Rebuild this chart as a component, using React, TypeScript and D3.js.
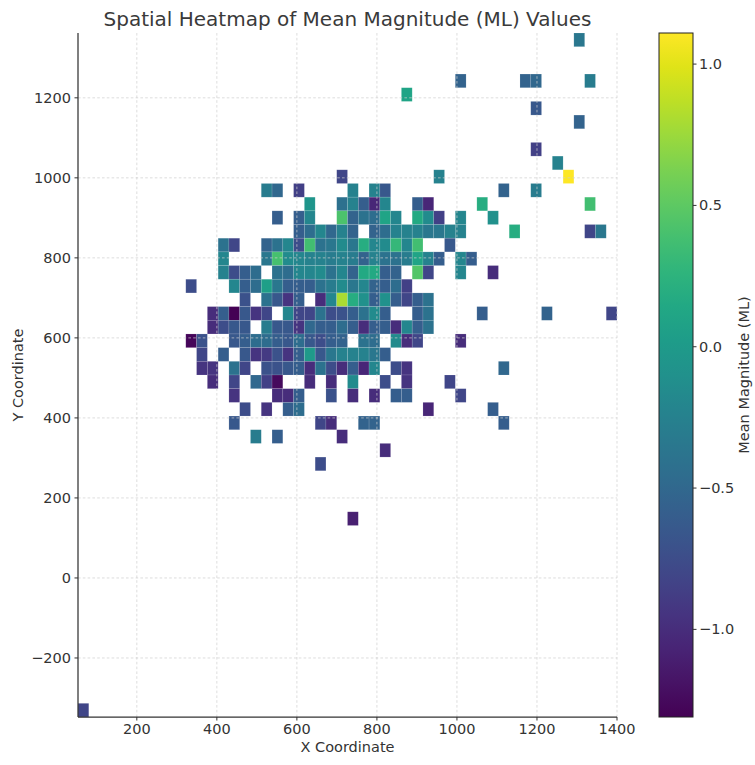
import React from "react";
import * as d3 from "d3";

const TITLE = "Spatial Heatmap of Mean Magnitude (ML) Values";
const X_LABEL = "X Coordinate";
const Y_LABEL = "Y Coordinate";
const COLORBAR_LABEL = "Mean Magnitude (ML)";

// Extent of the binned coordinates and number of bins per axis
const X_RANGE: [number, number] = [53, 1400];
const Y_RANGE: [number, number] = [-347.5, 1362];
const BIN_COUNT = 50;

const X_TICKS = [200, 400, 600, 800, 1000, 1200, 1400];
const Y_TICKS = [-200, 0, 200, 400, 600, 800, 1000, 1200];
const COLOR_TICKS = [-1.0, -0.5, 0.0, 0.5, 1.0];

// Mean ML of each occupied bin, grouped by bin row: [row, [[column, mean], ...]]
const MEAN_BY_ROW: [number, [number, number][]][] = [
  [49, [[46, -0.35]]],
  [46, [[35, -0.55], [41, -0.55], [42, -0.5], [47, -0.3]]],
  [45, [[30, 0.1]]],
  [44, [[42, -0.65]]],
  [43, [[46, -0.55]]],
  [41, [[42, -0.85]]],
  [40, [[44, -0.25]]],
  [39, [[24, -0.8], [33, -0.25], [45, 1.11]]],
  [38, [[17, -0.3], [18, -0.5], [20, -0.85], [25, -0.25], [27, -0.25], [28, -0.65], [39, -0.55], [42, -0.3]]],
  [37, [[21, -0.05], [24, -0.42], [25, -0.25], [26, -0.6], [27, -1.05], [28, -0.2], [31, -0.6], [32, -1.05], [37, 0.2], [47, 0.38]]],
  [36, [[18, -0.6], [20, -0.6], [21, -0.2], [24, 0.42], [25, -0.55], [26, -0.4], [27, -0.45], [28, 0.1], [29, -0.2], [31, 0.15], [32, -0.15], [33, -0.85], [35, -0.2], [38, -0.1]]],
  [35, [[20, -0.6], [21, -0.45], [22, -0.2], [23, -0.5], [24, -0.25], [25, -0.55], [27, -0.55], [28, -0.45], [29, -0.25], [30, -0.25], [31, -0.25], [32, -0.35], [33, -0.35], [34, -0.25], [35, -0.25], [40, 0.2], [47, -0.8], [48, -0.35]]],
  [34, [[13, -0.4], [14, -0.8], [17, -0.55], [18, -0.4], [19, -0.2], [20, -0.75], [21, 0.38], [22, -0.4], [23, -0.35], [24, -0.15], [25, -0.35], [26, 0.2], [27, -0.2], [28, -0.15], [29, 0.3], [30, -0.2], [31, 0.38], [34, -0.65]]],
  [33, [[13, -0.2], [17, -0.35], [18, 0.4], [19, -0.15], [20, -0.2], [21, -0.25], [22, -0.25], [23, -0.3], [24, -0.25], [25, -0.3], [26, -0.55], [27, -0.25], [28, -0.4], [29, -0.4], [30, -0.3], [31, 0.1], [32, -0.25], [33, -0.6], [35, -0.2], [36, -0.6]]],
  [32, [[13, -0.25], [14, -0.75], [15, -0.6], [16, -0.45], [18, -0.4], [19, -0.45], [20, -0.2], [21, -0.2], [22, -0.15], [23, -0.4], [24, -0.2], [25, -0.55], [26, 0.15], [27, 0.15], [28, -0.6], [29, -0.55], [31, 0.45], [32, -0.8], [35, -0.2], [38, -1.0]]],
  [31, [[10, -0.75], [14, -0.2], [15, -0.6], [16, -0.45], [17, 0.05], [18, -0.35], [19, -0.6], [20, -0.6], [21, -0.6], [22, -0.4], [23, -0.3], [24, -0.15], [25, -0.35], [26, -0.2], [27, -0.55], [28, -0.6], [29, -0.45], [30, -0.85]]],
  [30, [[15, -0.7], [17, -0.4], [18, -0.65], [19, -0.95], [20, -0.6], [22, -1.0], [23, -0.2], [24, 0.8], [25, 0.2], [26, -0.1], [27, -0.6], [28, -0.1], [29, -0.6], [30, -0.8], [31, -0.6], [32, -0.4]]],
  [29, [[12, -1.0], [13, -0.6], [14, -1.31], [15, -0.65], [16, -0.95], [17, -0.8], [19, -0.2], [20, -0.8], [21, -0.8], [22, -0.4], [23, -0.75], [24, -0.7], [25, -0.6], [26, -0.4], [27, -0.15], [28, -0.6], [31, -0.6], [32, -0.4], [37, -0.6], [43, -0.55], [49, -0.8]]],
  [28, [[12, -1.0], [13, -0.75], [14, -0.65], [15, -0.65], [17, -0.3], [18, -0.65], [19, -0.65], [20, -0.95], [21, -0.5], [22, -0.6], [23, -0.6], [24, -0.45], [25, -0.6], [26, -1.0], [27, -0.6], [28, -0.6], [29, -1.0], [30, -0.2], [31, -0.6], [32, -0.4]]],
  [27, [[10, -1.28], [11, -0.7], [14, -0.65], [15, -0.6], [16, -0.45], [17, -0.45], [18, -0.6], [19, -0.65], [20, -0.45], [21, -0.65], [22, -0.75], [23, -0.6], [24, -0.55], [26, -0.4], [27, -0.45], [29, -0.15], [30, -1.0], [31, -0.8], [35, -1.0]]],
  [26, [[11, -0.8], [13, -0.6], [15, -0.65], [16, -0.95], [17, -0.9], [18, -0.7], [19, -0.95], [20, -0.6], [21, 0.0], [22, -0.65], [23, -0.35], [24, -0.25], [25, -0.25], [26, -0.25], [27, -0.35], [28, -0.6]]],
  [25, [[11, -0.95], [12, -0.95], [14, -0.4], [15, -0.8], [17, -0.7], [18, -0.7], [19, -0.65], [20, -0.6], [21, -1.0], [22, -0.4], [23, -0.75], [24, -1.0], [25, -0.6], [26, -1.05], [27, -0.2], [29, -0.75], [30, -0.95], [39, -0.5]]],
  [24, [[12, -1.0], [14, -0.8], [16, -0.5], [17, -0.85], [18, -1.25], [21, -1.0], [23, -1.0], [25, -0.15], [28, -0.75], [30, -0.95], [34, -0.8]]],
  [23, [[14, -0.95], [18, -1.0], [19, -1.0], [20, -0.6], [23, -0.7], [25, -1.0], [27, -1.0], [29, -0.6], [30, -0.6], [35, -0.8]]],
  [22, [[15, -0.75], [17, -0.95], [19, -0.6], [20, -0.45], [32, -1.05], [38, -0.6]]],
  [21, [[14, -0.65], [22, -0.8], [23, -1.0], [26, -0.55], [27, -0.55], [39, -0.6]]],
  [20, [[16, -0.3], [18, -0.6], [24, -1.0]]],
  [19, [[28, -1.0]]],
  [18, [[22, -0.75]]],
  [14, [[25, -1.1]]],
  [0, [[0, -0.8]]],
];

const WIDTH = 755;
const HEIGHT = 765;
const PLOT = { left: 78, right: 617, top: 33, bottom: 717 };
const BAR = { left: 659, right: 693 };
const FONT = "'DejaVu Sans', sans-serif";
const TEXT = "#333";
const TICK_SIZE = 14.5;
const LABEL_SIZE = 14.5;

export default function App() {
  const x = d3.scaleLinear().domain(X_RANGE).range([PLOT.left, PLOT.right]);
  const y = d3.scaleLinear().domain(Y_RANGE).range([PLOT.bottom, PLOT.top]);

  const binW = (X_RANGE[1] - X_RANGE[0]) / BIN_COUNT;
  const binH = (Y_RANGE[1] - Y_RANGE[0]) / BIN_COUNT;

  const cells = MEAN_BY_ROW.flatMap(([row, entries]) =>
    entries.map(([col, mean]) => ({
      x0: X_RANGE[0] + col * binW,
      x1: X_RANGE[0] + (col + 1) * binW,
      y0: Y_RANGE[0] + row * binH,
      y1: Y_RANGE[0] + (row + 1) * binH,
      mean,
    }))
  );

  const extent = d3.extent(cells, (c) => c.mean) as [number, number];
  const color = d3.scaleSequential(d3.interpolateViridis).domain(extent);
  const cbar = d3.scaleLinear().domain(extent).range([PLOT.bottom, PLOT.top]);

  const fmtAxis = d3.format("d");
  const fmtBar = d3.format(".1f");

  const stops = d3.range(0, 1.0001, 0.05);

  return (
    <svg
      width={WIDTH}
      height={HEIGHT}
      style={{ position: "absolute", left: 0, top: 0, background: "#fff" }}
      fontFamily={FONT}
    >
      <defs>
        <linearGradient id="viridis-bar" x1="0" y1="1" x2="0" y2="0">
          {stops.map((t) => (
            <stop key={t} offset={t} stopColor={d3.interpolateViridis(t)} />
          ))}
        </linearGradient>
        <clipPath id="plot-clip">
          <rect x={PLOT.left} y={PLOT.top} width={PLOT.right - PLOT.left} height={PLOT.bottom - PLOT.top} />
        </clipPath>
      </defs>

      <rect x={0} y={0} width={WIDTH} height={HEIGHT} fill="#fff" />

      {/* binned cells */}
      <g clipPath="url(#plot-clip)">
        {cells.map((c, i) => (
          <rect
            key={i}
            x={x(c.x0)}
            y={y(c.y1)}
            width={x(c.x1) - x(c.x0)}
            height={y(c.y0) - y(c.y1)}
            fill={color(c.mean)}
            stroke="#fff"
            strokeOpacity={0.2}
            strokeWidth={0.6}
          />
        ))}
      </g>

      {/* dashed grid above the cells */}
      <g stroke="#cfcfcf" strokeWidth={0.7} strokeDasharray="2.6,2.2">
        {X_TICKS.map((t) => (
          <line key={"gx" + t} x1={x(t)} x2={x(t)} y1={PLOT.top} y2={PLOT.bottom} />
        ))}
        {Y_TICKS.map((t) => (
          <line key={"gy" + t} x1={PLOT.left} x2={PLOT.right} y1={y(t)} y2={y(t)} />
        ))}
      </g>

      {/* spines */}
      <line x1={PLOT.left} x2={PLOT.left} y1={PLOT.top} y2={PLOT.bottom} stroke={TEXT} strokeWidth={1.25} />
      <line x1={PLOT.left} x2={PLOT.right} y1={PLOT.bottom} y2={PLOT.bottom} stroke={TEXT} strokeWidth={1.25} />

      {/* x axis */}
      {X_TICKS.map((t) => (
        <g key={"xt" + t}>
          <line x1={x(t)} x2={x(t)} y1={PLOT.bottom} y2={PLOT.bottom + 3.5} stroke={TEXT} strokeWidth={1} />
          <text x={x(t)} y={PLOT.bottom + 12} textAnchor="middle" dominantBaseline="central" fontSize={TICK_SIZE} fill={TEXT}>
            {fmtAxis(t)}
          </text>
        </g>
      ))}
      <text x={(PLOT.left + PLOT.right) / 2} y={747} textAnchor="middle" dominantBaseline="central" fontSize={LABEL_SIZE} fill={TEXT}>
        {X_LABEL}
      </text>

      {/* y axis */}
      {Y_TICKS.map((t) => (
        <g key={"yt" + t}>
          <line x1={PLOT.left - 3.5} x2={PLOT.left} y1={y(t)} y2={y(t)} stroke={TEXT} strokeWidth={1} />
          <text x={PLOT.left - 7} y={y(t)} textAnchor="end" dominantBaseline="central" fontSize={TICK_SIZE} fill={TEXT}>
            {fmtAxis(t)}
          </text>
        </g>
      ))}
      <text
        transform={`translate(18,${(PLOT.top + PLOT.bottom) / 2}) rotate(-90)`}
        textAnchor="middle"
        dominantBaseline="central"
        fontSize={LABEL_SIZE}
        fill={TEXT}
      >
        {Y_LABEL}
      </text>

      {/* title */}
      <text x={(PLOT.left + PLOT.right) / 2} y={19} textAnchor="middle" dominantBaseline="central" fontSize={20} fill="#3a3a3a">
        {TITLE}
      </text>

      {/* colorbar */}
      <rect
        x={BAR.left}
        y={PLOT.top}
        width={BAR.right - BAR.left}
        height={PLOT.bottom - PLOT.top}
        fill="url(#viridis-bar)"
        stroke="#222"
        strokeWidth={1}
      />
      {COLOR_TICKS.map((t) => (
        <g key={"ct" + t}>
          <line x1={BAR.right} x2={BAR.right + 3.5} y1={cbar(t)} y2={cbar(t)} stroke={TEXT} strokeWidth={1} />
          <text x={BAR.right + 6} y={cbar(t)} dominantBaseline="central" fontSize={TICK_SIZE} fill={TEXT}>
            {fmtBar(t)}
          </text>
        </g>
      ))}
      <text
        transform={`translate(744,${(PLOT.top + PLOT.bottom) / 2}) rotate(-90)`}
        textAnchor="middle"
        dominantBaseline="central"
        fontSize={LABEL_SIZE}
        fill={TEXT}
      >
        {COLORBAR_LABEL}
      </text>
    </svg>
  );
}
